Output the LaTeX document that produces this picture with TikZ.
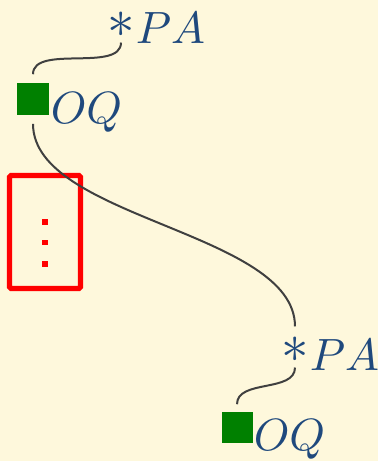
\documentclass[tikz,border=0pt]{standalone}
\usepackage{fix-cm}
\begin{document}
\definecolor{bgc}{RGB}{254,248,220}
\definecolor{txt}{RGB}{31,73,125}
\definecolor{sqc}{RGB}{0,128,0}
\definecolor{wire}{RGB}{64,64,64}
\begin{tikzpicture}[x=0.25pt,y=-0.25pt,
  lbl/.style={text=txt,inner sep=0pt,anchor=base west,font=\fontsize{11.3}{13}\selectfont},
  astnode/.style={text=txt,inner sep=0pt,font=\fontsize{13.7}{16}\selectfont},
  sqnode/.style={fill=sqc,draw=none,inner sep=0pt,minimum size=8pt},
  conn/.style={draw=wire,line width=0.5pt},
  dotnode/.style={fill=red,draw=none,inner sep=0pt,minimum size=1.3pt},
  redbox/.style={draw=red,line width=1.3pt,rounded corners=0.4pt}]
\fill[bgc] (0,0) rectangle (378,461);
\useasboundingbox (0,0) rectangle (378,461);
% top group
\node[astnode] (a1) at (121,25) {$\ast$};
\node[lbl] (p1) at (135,43) {$PA$};
\node[sqnode] (s1) at (33,99) {};
\node[lbl] (o1) at (50,123) {$OQ$};
% bottom group
\node[astnode] (a2) at (295,350) {$\ast$};
\node[lbl] (p2) at (309,370) {$PA$};
\node[sqnode,minimum size=7.75pt] (s2) at (237,427.5) {};
\node[lbl] (o2) at (253,450) {$OQ$};
% red box with dots
\node[redbox,minimum width=17.75pt,minimum height=28.25pt,inner sep=0pt] (box) at (45,232) {};
\node[dotnode] (d1) at (45,222) {};
\node[dotnode] (d2) at (45,242.5) {};
\node[dotnode] (d3) at (45,264) {};
% connectors
\draw[conn] ([yshift=-1pt]a1.south) .. controls +(0,30) and +(0,-30) .. ([yshift=2pt]s1.north);
\draw[conn] ([yshift=-2pt]s1.south) .. controls +(0,95) and +(0,-95) .. ([yshift=2.5pt]a2.north);
\draw[conn] ([yshift=-1pt]a2.south) .. controls +(0,25) and +(0,-25) .. ([yshift=1.75pt]s2.north);
\end{tikzpicture}
\end{document}
